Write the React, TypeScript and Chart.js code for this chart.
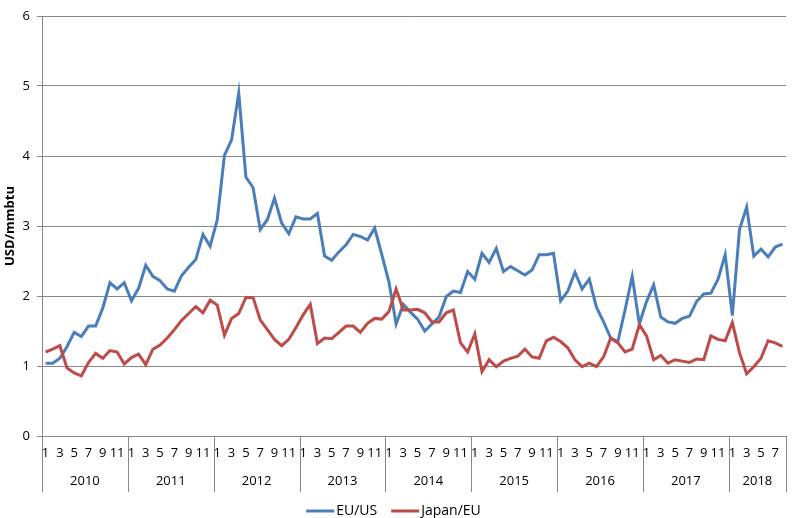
import React, { useEffect, useRef } from "react";
import { Chart, registerables } from "chart.js";

Chart.register(...registerables);

const years = [2010, 2011, 2012, 2013, 2014, 2015, 2016, 2017, 2018];
const monthCounts = [12, 12, 12, 12, 12, 12, 12, 12, 8];
const yTicks = [0, 1, 2, 3, 4, 5, 6];

const euUs = [
  1.04, 1.04, 1.11, 1.28, 1.48, 1.42, 1.57, 1.57, 1.83, 2.19, 2.1, 2.19,
  1.93, 2.11, 2.44, 2.28, 2.22, 2.1, 2.07, 2.29, 2.41, 2.52, 2.88, 2.71,
  3.09, 4.01, 4.23, 4.9, 3.7, 3.55, 2.95, 3.09, 3.4, 3.04, 2.89, 3.13,
  3.1, 3.1, 3.18, 2.57, 2.51, 2.63, 2.73, 2.88, 2.85, 2.8, 2.97, 2.59,
  2.2, 1.6, 1.88, 1.77, 1.67, 1.5, 1.6, 1.7, 1.99, 2.07, 2.05, 2.35,
  2.24, 2.61, 2.48, 2.68, 2.35, 2.42, 2.36, 2.3, 2.37, 2.59, 2.59, 2.61,
  1.93, 2.07, 2.34, 2.1, 2.24, 1.84, 1.63, 1.4, 1.35, 1.8, 2.28, 1.6,
  1.92, 2.16, 1.7, 1.63, 1.61, 1.68, 1.71, 1.92, 2.03, 2.04, 2.24, 2.59,
  1.72, 2.95, 3.27, 2.57, 2.67, 2.56, 2.7, 2.74,
];

const japanEu = [
  1.2, 1.24, 1.29, 0.97, 0.9, 0.86, 1.05, 1.18, 1.11, 1.22, 1.2, 1.03,
  1.12, 1.17, 1.02, 1.24, 1.3, 1.4, 1.52, 1.65, 1.75, 1.85, 1.76, 1.94,
  1.87, 1.44, 1.68, 1.75, 1.98, 1.98, 1.66, 1.52, 1.38, 1.29, 1.38, 1.55,
  1.73, 1.88, 1.32, 1.4, 1.39, 1.48, 1.57, 1.57, 1.48, 1.61, 1.68, 1.67,
  1.78, 2.1, 1.8, 1.8, 1.81, 1.76, 1.63, 1.63, 1.76, 1.8, 1.33, 1.2,
  1.46, 0.92, 1.09, 0.99, 1.07, 1.11, 1.14, 1.24, 1.13, 1.11, 1.36, 1.41,
  1.35, 1.26, 1.09, 0.99, 1.04, 0.99, 1.13, 1.4, 1.33, 1.2, 1.24, 1.59,
  1.43, 1.09, 1.15, 1.04, 1.09, 1.07, 1.05, 1.1, 1.09, 1.43, 1.38, 1.36,
  1.62, 1.19, 0.89, 0.99, 1.11, 1.36, 1.33, 1.28,
];

const seriesNames = ["EU/US", "Japan/EU"];
const seriesColors = ["#4A7EBB", "#BE4B48"];
const yTitle = "USD/mmbtu";

const FONT = "'Open Sans', 'Noto Sans', sans-serif";
const GRID = "#878787";

// month labels built from years/monthCounts
const monthLabels: string[] = [];
years.forEach((_, i) => {
  for (let m = 1; m <= monthCounts[i]; m++) monthLabels.push(String(m));
});

const groupPlugin = {
  id: "yearGroups",
  afterDraw(chart: any) {
    const x = chart.scales.x;
    const area = chart.chartArea;
    const ctx = chart.ctx as CanvasRenderingContext2D;
    const band = x.getPixelForValue(1) - x.getPixelForValue(0);
    ctx.save();
    ctx.strokeStyle = GRID;
    ctx.lineWidth = 1;
    ctx.fillStyle = "#000";
    ctx.font = `13px ${FONT}`;
    ctx.textAlign = "center";
    ctx.textBaseline = "middle";
    const sep = (px: number) => {
      const p = Math.round(px) + 0.5;
      ctx.beginPath();
      ctx.moveTo(p, area.bottom);
      ctx.lineTo(p, area.bottom + 56);
      ctx.stroke();
    };
    let start = 0;
    years.forEach((yr, i) => {
      const n = monthCounts[i];
      const left = x.getPixelForValue(start) - band / 2;
      const right = x.getPixelForValue(start + n - 1) + band / 2;
      sep(left);
      if (i === years.length - 1) sep(right);
      ctx.fillText(String(yr), (left + right) / 2, area.bottom + 45);
      start += n;
    });

    // legend
    ctx.font = `14px ${FONT}`;
    ctx.textAlign = "left";
    const lineLen = 28;
    const gapText = 2;
    const gapItem = 14;
    const widths = seriesNames.map((s) => lineLen + gapText + ctx.measureText(s).width);
    const total = widths.reduce((a, b) => a + b, 0) + gapItem * (seriesNames.length - 1);
    let lx = chart.width / 2 - 6 - total / 2;
    const ly = 511;
    seriesNames.forEach((s, i) => {
      ctx.strokeStyle = seriesColors[i];
      ctx.lineWidth = 3;
      ctx.beginPath();
      ctx.moveTo(lx, ly);
      ctx.lineTo(lx + lineLen, ly);
      ctx.stroke();
      ctx.fillStyle = "#000";
      ctx.fillText(s, lx + lineLen + gapText, ly);
      lx += widths[i] + gapItem;
    });
    ctx.restore();
  },
};

export default function App() {
  const ref = useRef<HTMLCanvasElement | null>(null);
  useEffect(() => {
    if (!ref.current) return;
    const chart = new Chart(ref.current, {
      type: "line",
      data: {
        labels: monthLabels,
        datasets: [
          {
            label: seriesNames[0],
            data: euUs,
            borderColor: seriesColors[0],
            backgroundColor: seriesColors[0],
            borderWidth: 3,
            pointRadius: 0,
            tension: 0,
            order: 1,
          },
          {
            label: seriesNames[1],
            data: japanEu,
            borderColor: seriesColors[1],
            backgroundColor: seriesColors[1],
            borderWidth: 3,
            pointRadius: 0,
            tension: 0,
            order: 0,
          },
        ],
      },
      options: {
        animation: false,
        responsive: false,
        maintainAspectRatio: false,
        layout: { padding: { left: 0, right: 13, top: 16, bottom: 22 } },
        plugins: { legend: { display: false }, tooltip: { enabled: false } },
        scales: {
          x: {
            type: "category",
            offset: true,
            grid: { display: false, drawTicks: false },
            border: { display: false },
            ticks: {
              autoSkip: false,
              maxRotation: 0,
              minRotation: 0,
              padding: 9,
              color: "#000",
              font: { family: FONT, size: 13 },
              callback: function (this: any, value: any) {
                const lab = this.getLabelForValue(value);
                return Number(lab) % 2 === 1 ? lab : "";
              },
            },
            afterFit: (s: any) => {
              s.height = 60;
            },
          },
          y: {
            min: 0,
            max: 6,
            afterBuildTicks: (s: any) => {
              s.ticks = yTicks.map((v) => ({ value: v }));
            },
            grid: { color: GRID, lineWidth: 1, tickLength: 5 },
            border: { display: true, color: GRID, width: 1 },
            ticks: {
              padding: 7,
              color: "#000",
              font: { family: FONT, size: 13 },
            },
            title: {
              display: true,
              text: yTitle,
              color: "#000",
              font: { family: FONT, size: 13, weight: "bold" },
              padding: { top: 2, bottom: 0 },
            },
            afterFit: (s: any) => {
              s.width = 42;
            },
          },
        },
      },
      plugins: [groupPlugin],
    });
    return () => chart.destroy();
  }, []);
  return (
    <div style={{ position: "fixed", left: 0, top: 0, width: 799, height: 518, background: "#fff" }}>
      <canvas ref={ref} width={799} height={518} style={{ width: 799, height: 518 }} />
    </div>
  );
}
